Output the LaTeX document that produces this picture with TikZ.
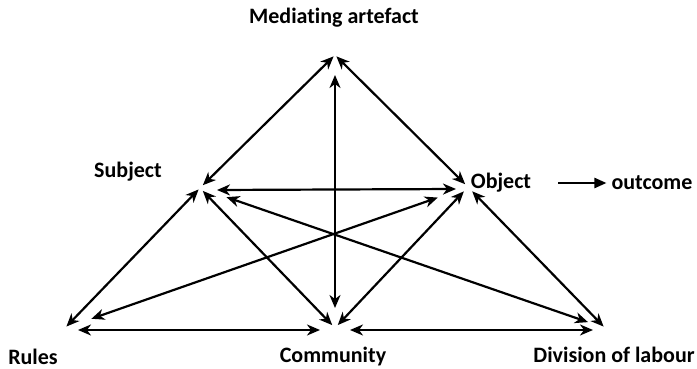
\documentclass[tikz,border=0pt]{standalone}
\usepackage{fontspec}
\setmainfont{Carlito}[Ligatures=NoCommon]
\usetikzlibrary{arrows.meta,calc}

\begin{document}
\begin{tikzpicture}[x=0.5pt,y=-0.5pt,line width=1.1pt,
           every node/.style={inner sep=2pt,font=\fontsize{11}{13}\selectfont\bfseries},
           >={Stealth[length=6.5pt,width=5.5pt,inset=2pt]}]
           \useasboundingbox (0,0) rectangle (697,369);
           % corners of the two triangles
           \coordinate (M) at (335,55);
           \coordinate (S) at (200,188);
           \coordinate (O) at (468,187);
           \coordinate (R) at (65,328);
           \coordinate (C) at (335,328);
           \coordinate (D) at (605,328);
           \node (med) at (334,18) {Mediating artefact};
           \node (subj) at (128,172) {Subject};
           \node (obj) at (501,183) {Object};
           \node (outc) at (652,183) {outcome};
           \node (rul) at (33,357) {Rules};
           \node (comm) at (333,357) {Community};
           \node (div) at (614,355) {Division of labour};
           \draw[-{Triangle[length=6pt,width=5pt]}](obj.east)++(22,0)--(outc.west);
           % top triangle
           \draw[<->,shorten <=2pt,shorten >=1pt](S)--(M);
           \draw[<->,shorten <=2pt,shorten >=1pt](O)--(M);
           \draw[<->,shorten <=10pt,shorten >=10pt](M)--(C);
           \draw[<->]($(S)+(17,2)$)--($(O)+(-12,2)$);
           % bottom triangle
           \draw[<->,shorten <=2pt,shorten >=2pt](S)--(C);
           \draw[<->,shorten <=3pt,shorten >=2pt](O)--(C);
           \draw[<->,shorten <=1pt,shorten >=1pt](R)--(S);
           \draw[<->,shorten <=3pt,shorten >=1pt](O)--(D);
           \draw[<->]($(R)+(13,2)$)--($(C)+(-15,2)$);
           \draw[<->]($(C)+(15,2)$)--($(D)+(-12,2)$);
           % the crossing ones
           \draw[<->,shorten <=14pt,shorten >=16pt](R)--(O);
           \draw[<->,shorten <=14pt,shorten >=9pt](S)--(D);
         \end{tikzpicture}
\end{document}
